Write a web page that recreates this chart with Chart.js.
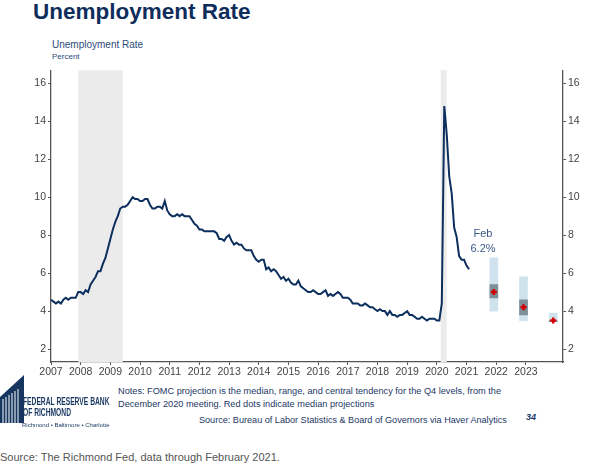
<!DOCTYPE html>
<html>
<head>
<meta charset="utf-8">
<script src="https://cdn.jsdelivr.net/npm/chart.js@4"></script>
<style>
  body { margin: 0; width: 608px; height: 476px; background: #fff; position: relative; overflow: hidden; font-family: "Liberation Sans", Arial, sans-serif; }
  .t { position: absolute; white-space: nowrap; }
  .sq { transform-origin: left top; transform: scaleX(0.67); }
  #chart { position: absolute; left: 0; top: 62px; }
</style>
</head>
<body>
<div class="t" style="left:33px;top:-1px;font-size:22.5px;font-weight:bold;color:#0f2d5c;">Unemployment Rate</div>
<div class="t" style="left:52px;top:39px;font-size:10px;color:#2c4a78;">Unemployment Rate</div>
<div class="t" style="left:52px;top:52px;font-size:8px;color:#2c4a78;">Percent</div>

<canvas id="chart" width="608" height="320"></canvas>

<svg style="position:absolute;left:0;top:375px" width="24" height="48" viewBox="0 0 24 48">
  <polygon points="0,22 24,0 24,48 0,48" fill="#16365f"/>
  <g stroke="#fff" stroke-width="1">
    <line x1="3" y1="24" x2="3" y2="48"/><line x1="6" y1="22" x2="6" y2="48"/>
    <line x1="9" y1="20" x2="9" y2="48"/><line x1="12" y1="18" x2="12" y2="48"/>
    <line x1="15" y1="16" x2="15" y2="48"/><line x1="18" y1="14" x2="18" y2="48"/>
  </g>
</svg>
<div class="t sq" style="left:23px;top:396px;font-size:10px;font-weight:bold;color:#16365f;">FEDERAL RESERVE BANK</div>
<div class="t sq" style="left:23px;top:407px;font-size:10px;font-weight:bold;color:#16365f;">OF RICHMOND</div>
<div class="t" style="left:22px;top:422px;font-size:6px;color:#16365f;">Richmond • Baltimore • Charlotte</div>

<div class="t" style="left:118px;top:385px;font-size:9.2px;color:#1c3766;line-height:12.5px;">Notes: FOMC projection is the median, range, and central tendency for the Q4 levels, from the<br>December 2020 meeting. Red dots indicate median projections</div>
<div class="t" style="left:199px;top:415px;font-size:9.1px;color:#1c3766;">Source: Bureau of Labor Statistics &amp; Board of Governors via Haver Analytics</div>
<div class="t" style="left:526px;top:412px;font-size:9px;font-weight:bold;font-style:italic;color:#1c3766;">34</div>
<div class="t" style="left:0px;top:451px;font-size:11px;color:#555;">Source: The Richmond Fed, data through February 2021.</div>

<script>
const startYear = 2007;
const unemployment = [
  4.6, 4.5, 4.4, 4.5, 4.4, 4.6, 4.7, 4.6, 4.7, 4.7, 4.7, 5.0,
  5.0, 4.9, 5.1, 5.0, 5.4, 5.6, 5.8, 6.1, 6.1, 6.5, 6.8, 7.3,
  7.8, 8.3, 8.7, 9.0, 9.4, 9.5, 9.5, 9.6, 9.8, 10.0, 9.9, 9.9,
  9.8, 9.8, 9.9, 9.9, 9.6, 9.4, 9.4, 9.5, 9.5, 9.4, 9.8, 9.3,
  9.1, 9.0, 9.0, 9.1, 9.0, 9.1, 9.0, 9.0, 9.0, 8.8, 8.6, 8.5,
  8.3, 8.3, 8.2, 8.2, 8.2, 8.2, 8.2, 8.1, 7.8, 7.8, 7.7, 7.9,
  8.0, 7.7, 7.5, 7.6, 7.5, 7.5, 7.3, 7.2, 7.2, 7.2, 6.9, 6.7,
  6.6, 6.7, 6.7, 6.2, 6.3, 6.1, 6.2, 6.1, 5.9, 5.7, 5.8, 5.6,
  5.7, 5.5, 5.4, 5.4, 5.6, 5.3, 5.2, 5.1, 5.0, 5.0, 5.1, 5.0,
  4.9, 4.9, 5.0, 5.1, 4.8, 4.9, 4.8, 4.9, 5.0, 4.9, 4.7, 4.7,
  4.7, 4.6, 4.4, 4.4, 4.4, 4.3, 4.3, 4.4, 4.3, 4.2, 4.2, 4.1,
  4.0, 4.1, 4.0, 4.0, 3.8, 4.0, 3.8, 3.8, 3.7, 3.8, 3.8, 3.9,
  4.0, 3.8, 3.8, 3.7, 3.6, 3.6, 3.7, 3.6, 3.5, 3.6, 3.6, 3.6,
  3.5, 3.5, 4.4, 14.8, 13.3, 11.1, 10.2, 8.4, 7.9, 6.9, 6.7, 6.7,
  6.4, 6.2
];

// FOMC December 2020 projections (Q4 levels)
const projX = [2021.92, 2022.92, 2023.92];
const rangeLow = [4.0, 3.5, 3.45];
const rangeHigh = [6.8, 5.8, 3.9];
const ctLow = [4.7, 3.8, 3.45];
const ctHigh = [5.4, 4.6, 3.5];
const median = [5.0, 4.2, 3.5];

// recessions (decimal years)
const recStart = [2007.92, 2020.13];
const recEnd = [2009.42, 2020.33];

const yearTicks = [2007, 2008, 2009, 2010, 2011, 2012, 2013, 2014, 2015, 2016, 2017, 2018, 2019, 2020, 2021, 2022, 2023];
const rateTicks = [2, 4, 6, 8, 10, 12, 14, 16];

const linePts = unemployment.map((v, i) => ({ x: startYear + i / 12, y: v }));

const recessionPlugin = {
  id: 'recessions',
  beforeDatasetsDraw(chart) {
    const { ctx, chartArea, scales } = chart;
    ctx.save();
    ctx.fillStyle = '#ebebeb';
    recStart.forEach((s, i) => {
      const x1 = scales.x.getPixelForValue(s);
      const x2 = scales.x.getPixelForValue(recEnd[i]);
      ctx.fillRect(x1, chartArea.top, x2 - x1, chartArea.bottom - chartArea.top);
    });
    ctx.restore();
  }
};

const lastLabel = {
  id: 'lastLabel',
  afterDatasetsDraw(chart) {
    const { ctx, scales } = chart;
    const last = linePts[linePts.length - 1];
    const x = scales.x.getPixelForValue(last.x) + 14;
    const y = scales.y.getPixelForValue(last.y);
    ctx.save();
    ctx.fillStyle = '#3b5a88';
    ctx.font = '11px "Liberation Sans", Arial, sans-serif';
    ctx.textAlign = 'center';
    ctx.textBaseline = 'middle';
    ctx.fillText('Feb', x, y - 35);
    ctx.fillText(last.y.toFixed(1) + '%', x, y - 20);
    ctx.restore();
  }
};

const axisFont = { family: '"Liberation Sans", Arial, sans-serif', size: 10.5 };

new Chart('chart', {
  data: {
    datasets: [
      {
        type: 'bar',
        data: projX.map((x, i) => ({ x: x, y: [rangeLow[i], rangeHigh[i]] })),
        backgroundColor: '#cfe3ee',
        barThickness: 8,
        grouped: false,
        order: 3
      },
      {
        type: 'bar',
        data: projX.map((x, i) => ({ x: x, y: [ctLow[i], ctHigh[i]] })),
        backgroundColor: '#7d8f97',
        barThickness: 8,
        grouped: false,
        order: 2
      },
      {
        type: 'line',
        data: projX.map((x, i) => ({ x: x, y: median[i] })),
        showLine: false,
        pointStyle: 'cross',
        pointRadius: 3,
        pointBorderWidth: 2.5,
        borderColor: '#d40000',
        backgroundColor: '#d40000',
        order: 1
      },
      {
        type: 'line',
        data: linePts,
        borderColor: '#0d2f5e',
        borderWidth: 2,
        pointRadius: 0,
        tension: 0,
        order: 0
      }
    ]
  },
  options: {
    responsive: false,
    animation: false,
    layout: { padding: { top: 5 } },
    plugins: { legend: { display: false }, tooltip: { enabled: false } },
    scales: {
      x: {
        type: 'linear',
        offset: false,
        min: 2007,
        max: 2024.25,
        afterBuildTicks: s => { s.ticks = yearTicks.map(v => ({ value: v })); },
        afterFit: s => { s.height = 20; },
        ticks: { color: '#444', font: axisFont, padding: 1, maxRotation: 0, callback: v => String(v) },
        grid: { offset: false, drawOnChartArea: false, drawTicks: true, tickLength: 3, color: '#555' },
        border: { display: true, color: '#555', width: 1.3 }
      },
      y: {
        position: 'left',
        min: 1.32,
        max: 16.68,
        afterBuildTicks: s => { s.ticks = rateTicks.map(v => ({ value: v })); },
        afterFit: s => { s.width = 51; },
        ticks: { color: '#444', font: axisFont, padding: 2 },
        grid: { drawOnChartArea: false, drawTicks: true, tickLength: 3, color: '#555' },
        border: { display: true, color: '#555', width: 1.3 }
      },
      y2: {
        position: 'right',
        min: 1.32,
        max: 16.68,
        afterBuildTicks: s => { s.ticks = rateTicks.map(v => ({ value: v })); },
        afterFit: s => { s.width = 45; },
        ticks: { color: '#444', font: axisFont, padding: 2 },
        grid: { drawOnChartArea: false, drawTicks: true, tickLength: 3, color: '#555' },
        border: { display: true, color: '#555', width: 1.3 }
      }
    }
  },
  plugins: [recessionPlugin, lastLabel]
});
</script>
</body>
</html>
